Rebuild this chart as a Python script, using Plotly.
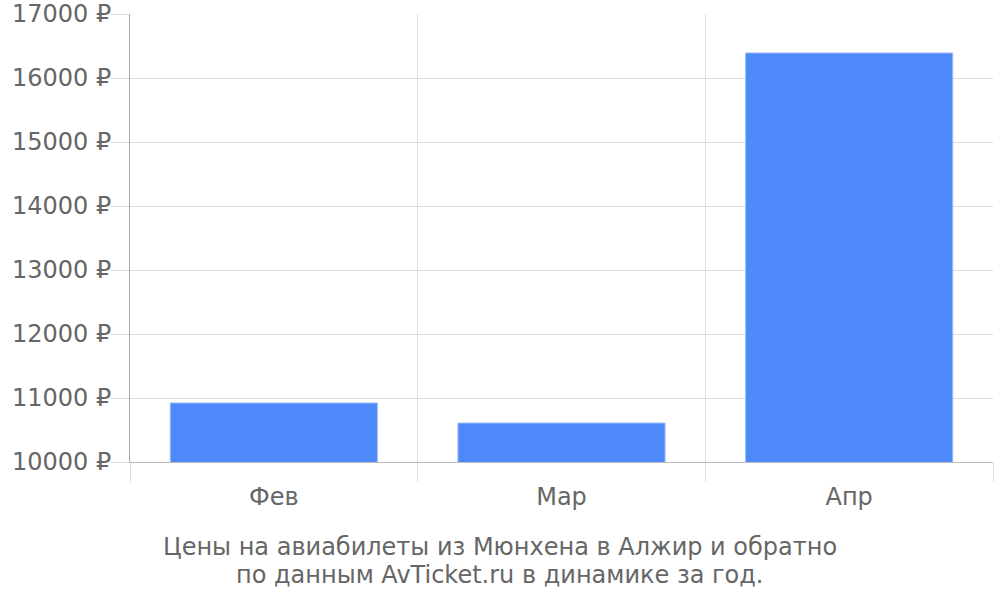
import plotly.graph_objects as go

months = ["Фев", "Мар", "Апр"]
prices = [10922, 10609, 16391]
y_ticks = [10000, 11000, 12000, 13000, 14000, 15000, 16000, 17000]
caption_lines = [
    "Цены на авиабилеты из Мюнхена в Алжир и обратно",
    "по данным AvTicket.ru в динамике за год.",
]

font_name = "DejaVu Sans"
text_color = "#666666"
grid_color = "#dddddd"

fig = go.Figure(go.Bar(
    x=months,
    y=prices,
    marker=dict(color="#4d89f9", line=dict(color="#9cbcfb", width=1)),
    hoverinfo="x+y",
))

fig.update_layout(
    width=1000,
    height=600,
    margin=dict(l=130, r=7, t=14, b=138),
    paper_bgcolor="white",
    plot_bgcolor="white",
    bargap=0.28,
    showlegend=False,
    font=dict(family=font_name, size=24, color=text_color),
)

fig.update_xaxes(
    type="category",
    tickson="boundaries",
    ticks="outside",
    ticklen=19,
    tickcolor=grid_color,
    ticklabelstandoff=13,
    showgrid=True,
    gridcolor=grid_color,
    showline=True,
    linecolor="#bbbbbb",
    automargin=False,
    tickfont=dict(size=24, color=text_color),
)

fig.update_yaxes(
    range=[10000, 17000],
    tickvals=y_ticks,
    ticktext=[f"{v} ₽" for v in y_ticks],
    ticks="outside",
    ticklen=20,
    tickcolor=grid_color,
    ticklabelstandoff=-7,
    ticklabeloverflow="allow",
    showgrid=True,
    gridcolor=grid_color,
    showline=True,
    linecolor="#aaaaaa",
    zeroline=False,
    automargin=False,
    tickfont=dict(size=24, color=text_color),
)

# caption, one annotation per line
for line, ypos in zip(caption_lines, [-0.19, -0.252]):
    fig.add_annotation(
        text=line,
        xref="paper",
        yref="paper",
        x=0.4287,
        y=ypos,
        xanchor="center",
        yanchor="middle",
        showarrow=False,
        font=dict(family=font_name, size=24, color=text_color),
    )

# drop the default 8px page margin so the figure sits at the window corner
fig.write_html(
    "out.html",
    config={"displayModeBar": False},
    post_script="document.body.style.margin = '0';",
)
